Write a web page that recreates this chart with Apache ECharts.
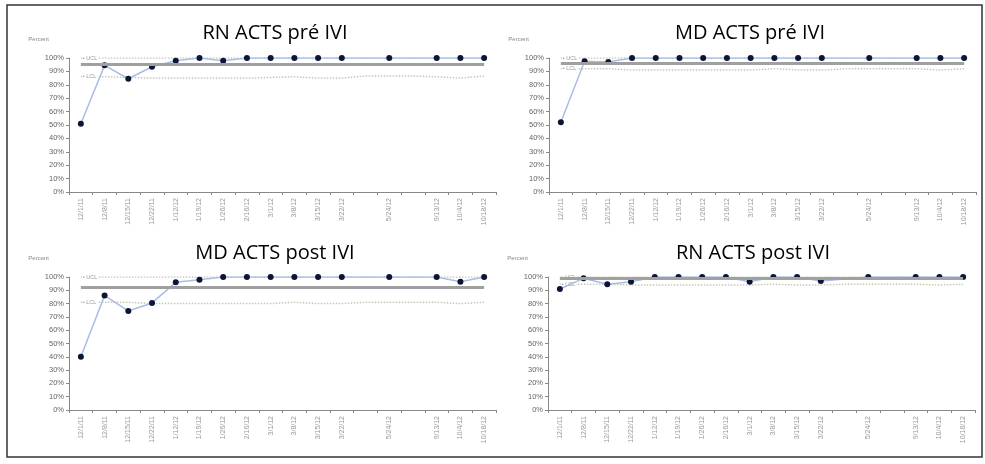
<!DOCTYPE html>
<html>
<head>
<meta charset="utf-8">
<script src="https://cdn.jsdelivr.net/npm/echarts@6/dist/echarts.min.js"></script>
<style>html,body{margin:0;padding:0;background:#fff}#c{width:985px;height:464px}</style>
</head>
<body>
<div id="c"></div>
<script>
// ---- data ----
const categories = ['12/1/11','12/8/11','12/15/11','12/22/11','1/12/12','1/19/12','1/26/12','2/16/12','3/1/12','3/8/12','3/15/12','3/22/12','','5/24/12','','9/13/12','10/4/12','10/18/12'];
const yTicks = [0,10,20,30,40,50,60,70,80,90,100];

const titles = ['RN ACTS pré IVI','MD ACTS pré IVI','MD ACTS post IVI','RN ACTS post IVI'];

const rnPreValues  = [51,94.5,84.5,93.5,98,100,98,100,100,100,100,100,null,100,null,100,100,100];
const mdPreValues  = [52,97.5,97,100,100,100,100,100,100,100,100,100,null,100,null,100,100,100];
const mdPostValues = [40,86,74.5,80.5,96,98,100,100,100,100,100,100,null,100,null,100,96.5,100];
const rnPostValues = [91,99,94.5,96.5,100,100,100,100,96.5,100,100,97,null,100,null,100,100,100];

const rnPreUCL  = [100,100,100,100,100,100,100,100,100,100,100,100,100,100,100,100,100,100];
const mdPreUCL  = [100,100,100,100,100,100,100,100,100,100,100,100,100,100,100,100,100,100];
const mdPostUCL = [100,100,100,100,100,100,100,100,100,100,100,100,100,100,100,100,100,100];
const rnPostUCL = [100,100,100,100,100,100,100,100,100,100,100,100,100,100,100,100,100,100];

const rnPreLCL  = [86,86,85.5,85,85,85,85,85,85.5,86,85,85,86.5,86.5,86.5,86,85,86.5];
const mdPreLCL  = [92,92,92,91,91,91,91,91,91,92,91,91,92,92,92,92,91,92];
const mdPostLCL = [81,81,81,80,80,80,80,80,80,81,80,80,81,81,81,81,80,81];
const rnPostLCL = [94.5,94.5,94.5,94,94,94,94,94,94,94.5,94,94,94.5,94.5,94.5,94.5,94,94.5];

const means = [95,96,92,98.7];

// ---- layout ----
const grids = [
  {left:69, top:58, width:427, height:134},
  {left:549, top:58, width:427, height:134},
  {left:69, top:277, width:427, height:133},
  {left:548, top:277, width:427, height:133}
];
const titlePos = [
  {x:270, y:18},{x:745, y:18},{x:270, y:238},{x:748, y:238}
];
const valueSets = [rnPreValues, mdPreValues, mdPostValues, rnPostValues];
const uclSets = [rnPreUCL, mdPreUCL, mdPostUCL, rnPostUCL];
const lclSets = [rnPreLCL, mdPreLCL, mdPostLCL, rnPostLCL];

const option = {
  backgroundColor:'#fff',
  animation:false,
  title: titles.map((t,i)=>({
    text:t, left:titlePos[i].x, top:titlePos[i].y, textAlign:'center',
    textStyle:{fontFamily:'Open Sans', fontSize:20, fontWeight:'normal', color:'#000'}
  })),
  graphic:[{type:'rect', shape:{x:7,y:5,width:975,height:452}, style:{fill:'none', stroke:'#333', lineWidth:1.5}, silent:true}],
  grid: grids,
  xAxis: grids.map((g,i)=>({
    type:'category', gridIndex:i, data:categories, boundaryGap:true,
    axisLine:{lineStyle:{color:'#888', width:1}},
    axisTick:{show:true, length:3, lineStyle:{color:'#888'}},
    axisLabel:{rotate:90, fontSize:7, color:'#999', margin:6, interval:0, fontFamily:'Liberation Sans'}
  })),
  yAxis: grids.map((g,i)=>({
    type:'value', gridIndex:i, min:0, max:100, interval:10,
    name:'Percent', nameLocation:'end', nameGap:16,
    nameTextStyle:{fontSize:6, color:'#888', align:'right', padding:[0,20,0,0], fontFamily:'Liberation Sans'},
    axisLine:{show:true, lineStyle:{color:'#888'}},
    axisTick:{show:true, length:3, lineStyle:{color:'#888'}},
    splitLine:{show:false},
    axisLabel:{formatter:'{value}%', fontSize:7.5, color:'#666', margin:5, fontFamily:'Liberation Sans'}
  })),
  series: []
};

for (let i=0;i<4;i++){
  const lbl = (txt)=>({show:true, formatter:txt, position:'right', distance:1, fontSize:5.5, color:'#999', backgroundColor:'#fff', padding:[0,1], fontFamily:'Liberation Sans'});
  const mk = (arr, txt)=>arr.map((v,k)=>k===0?{value:v,label:lbl(txt)}:v);
  option.series.push({
    type:'line', xAxisIndex:i, yAxisIndex:i, data:mk(uclSets[i],'• UCL'),
    showSymbol:true, symbol:'circle', symbolSize:0, label:{show:false},
    lineStyle:{type:'dotted', color:'#c6c8b6', width:1.5}, z:1, silent:true
  });
  option.series.push({
    type:'line', xAxisIndex:i, yAxisIndex:i, data:mk(lclSets[i],'• LCL'),
    showSymbol:true, symbol:'circle', symbolSize:0, label:{show:false},
    lineStyle:{type:'dotted', color:'#c6c8b6', width:1.5}, z:1, silent:true
  });
  option.series.push({
    type:'line', xAxisIndex:i, yAxisIndex:i, data:valueSets[i], connectNulls:true,
    symbol:'circle', symbolSize:6,
    itemStyle:{color:'#0b1536'},
    lineStyle:{color:'#a9bde3', width:1.5}, z:3,
    markLine:{silent:true, symbol:'none', label:{show:false},
      lineStyle:{color:'#a0a0a0', width:3, type:'solid'},
      data:[[{coord:[0, means[i]]},{coord:[17, means[i]]}]]}
  });
}

const chart = echarts.init(document.getElementById('c'), null, {renderer:'canvas'});
chart.setOption(option);
</script>
</body>
</html>
